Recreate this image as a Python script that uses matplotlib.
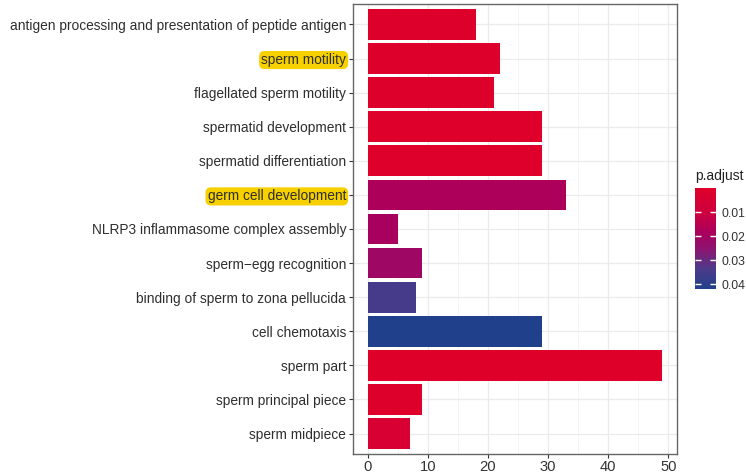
import numpy as np
import matplotlib
matplotlib.use("Agg")
import matplotlib.pyplot as plt
from matplotlib.colors import LinearSegmentedColormap, Normalize
from matplotlib.cm import ScalarMappable

terms = [
    "antigen processing and presentation of peptide antigen",
    "sperm motility",
    "flagellated sperm motility",
    "spermatid development",
    "spermatid differentiation",
    "germ cell development",
    "NLRP3 inflammasome complex assembly",
    "sperm\u2212egg recognition",
    "binding of sperm to zona pellucida",
    "cell chemotaxis",
    "sperm part",
    "sperm principal piece",
    "sperm midpiece",
]
counts = [18, 22, 21, 29, 29, 33, 5, 9, 8, 29, 49, 9, 7]
p_adjust = [0.001, 0.001, 0.001, 0.0005, 0.0005, 0.018, 0.019, 0.021,
            0.035, 0.042, 0.0001, 0.001, 0.004]
highlighted = ["sperm motility", "germ cell development"]

plt.rcParams["font.family"] = ["Liberation Sans", "DejaVu Sans"]

cmap = LinearSegmentedColormap.from_list(
    "padj", [(0.0, "#DF0029"), (0.25, "#CC0040"), (0.45, "#A8005E"),
             (0.6, "#8E1470"), (0.8, "#4D3A8A"), (1.0, "#21408B")])
norm = Normalize(vmin=0.0, vmax=0.042)

fig = plt.figure(figsize=(7.46, 4.74), dpi=100)
ax = fig.add_axes([353 / 746, 20 / 474, 324 / 746, 450 / 474])

n = len(terms)
ypos = np.arange(n, 0, -1)
ax.barh(ypos, counts, height=0.9, color=cmap(norm(np.array(p_adjust))), zorder=3)

ax.set_xlim(-2.45, 51.45)
ax.set_ylim(0.4, n + 0.6)
ax.set_xticks([0, 10, 20, 30, 40, 50])
ax.set_xticks([5, 15, 25, 35, 45], minor=True)
ax.set_yticks(ypos)
ax.set_yticklabels(terms)
ax.grid(True, which="major", color="#EBEBEB", lw=0.9, zorder=0)
ax.grid(True, which="minor", axis="x", color="#F4F4F4", lw=0.6, zorder=0)
ax.tick_params(axis="y", which="major", labelsize=9.95, labelcolor="#2E2E2E",
               color="#333333", length=3, width=0.8, pad=2)
ax.tick_params(axis="x", which="major", labelsize=10.6, labelcolor="#333333",
               color="#333333", length=3, width=0.8, pad=1)
ax.tick_params(axis="x", which="minor", length=0)
for s in ax.spines.values():
    s.set_color("#666666")
    s.set_linewidth(1.0)

for lab in ax.get_yticklabels():
    if lab.get_text() in highlighted:
        lab.set_bbox(dict(boxstyle="round,pad=0.15,rounding_size=0.4",
                          fc="#F7D000", ec="none"))

cax = fig.add_axes([695 / 746, (474 - 289) / 474, 21 / 746, 101 / 474])
sm = ScalarMappable(norm=norm, cmap=cmap)
cb = fig.colorbar(sm, cax=cax, ticks=[0.01, 0.02, 0.03, 0.04])
cb.outline.set_visible(False)
cax.invert_yaxis()
cax.set_yticklabels(["0.01", "0.02", "0.03", "0.04"])
cax.tick_params(axis="y", direction="in", color="white", length=4, width=1.0,
                left=True, right=True, labelsize=8.8, labelcolor="#333333", pad=4)
fig.text(695 / 746, 1 - 176 / 474, "p.adjust", fontsize=10, color="#222222",
         va="center", ha="left")

fig.savefig("out.png", dpi=100)
